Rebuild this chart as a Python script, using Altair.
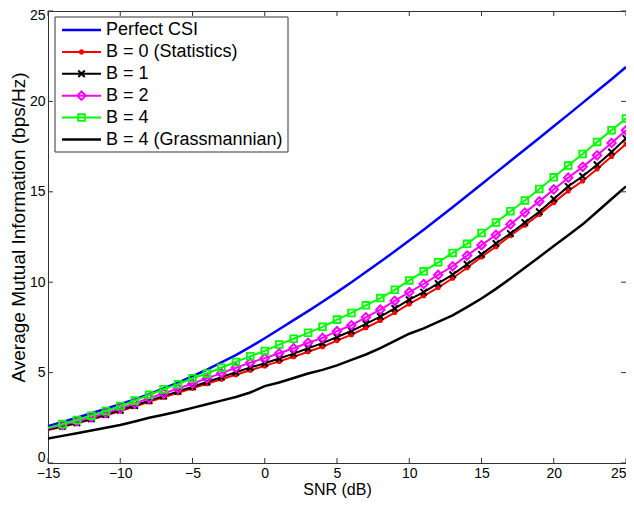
import altair as alt
import pandas as pd

# ---------------- data ----------------
snr = list(range(-15, 26))

perfect_csi = [2.03, 2.27, 2.5, 2.75, 3.0, 3.25, 3.52, 3.81, 4.12, 4.45,
               4.8, 5.17, 5.56, 5.97, 6.42, 6.9, 7.4, 7.9, 8.4, 8.92,
               9.45, 10.0, 10.56, 11.13, 11.71, 12.3, 12.9, 13.52, 14.15, 14.78,
               15.42, 16.06, 16.7, 17.34, 17.98, 18.62, 19.27, 19.92, 20.57, 21.23,
               21.9]
b0_statistics = [1.83, 2.0, 2.2, 2.41, 2.63, 2.87, 3.12, 3.38, 3.63, 3.88,
                 4.13, 4.38, 4.63, 4.88, 5.13, 5.37, 5.62, 5.88,
                 6.15, 6.43, 6.77, 7.1, 7.48, 7.88, 8.32,
                 8.8, 9.25, 9.7, 10.22, 10.8, 11.4, 11.96, 12.57, 13.15, 13.75,
                 14.4, 15.05, 15.6, 16.26, 16.95, 17.64]
b1 = [1.85, 2.03, 2.23, 2.45, 2.68, 2.92, 3.18, 3.45, 3.7, 3.96,
      4.22, 4.48, 4.75, 5.02, 5.28, 5.52, 5.78, 6.05,
      6.35, 6.63, 6.97, 7.3, 7.7, 8.1, 8.55,
      9.03, 9.45, 9.93, 10.42, 10.99, 11.54, 12.14, 12.69, 13.3, 13.9,
      14.6, 15.3, 15.86, 16.5, 17.2, 17.95]
b2 = [1.9, 2.1, 2.3, 2.52, 2.76, 3.02, 3.3, 3.58, 3.85, 4.12,
      4.4, 4.68, 4.97, 5.27, 5.55, 5.8, 6.07, 6.35,
      6.65, 6.92, 7.29, 7.62, 8.06, 8.48, 8.97,
      9.45, 9.9, 10.4, 10.88, 11.47, 12.05, 12.62, 13.2, 13.85, 14.47,
      15.13, 15.78, 16.38, 17.02, 17.7, 18.4]
b4 = [1.95, 2.15, 2.38, 2.62, 2.88, 3.15, 3.45, 3.77, 4.08, 4.36,
      4.69, 4.95, 5.27, 5.59, 5.9, 6.2, 6.55, 6.87,
      7.2, 7.53, 7.93, 8.3, 8.72, 9.12, 9.58,
      10.1, 10.6, 11.1, 11.62, 12.12, 12.72, 13.3, 13.92, 14.52, 15.16,
      15.8, 16.45, 17.09, 17.76, 18.41, 19.05]
b4_grassmannian = [1.35, 1.5, 1.65, 1.8, 1.95, 2.1, 2.3, 2.5, 2.67, 2.85,
                   3.05, 3.25, 3.45, 3.65, 3.9,
                   4.25, 4.45, 4.7, 4.95, 5.15, 5.4, 5.7, 6.0, 6.35,
                   6.75, 7.15, 7.45, 7.8, 8.17, 8.62, 9.1, 9.63, 10.2, 10.8,
                   11.4, 12.0, 12.6, 13.2, 13.9, 14.6, 15.3]

series_names = ["Perfect CSI", "B = 0 (Statistics)", "B = 1", "B = 2", "B = 4",
                "B = 4 (Grassmannian)"]
series_colors = ["#0000FF", "#FF0000", "#000000", "#FF00FF", "#00FF00", "#000000"]
x_ticks = [-15, -10, -5, 0, 5, 10, 15, 20, 25]
y_ticks = [0, 5, 10, 15, 20, 25]

# ---------------- build tables ----------------
series_values = [perfect_csi, b0_statistics, b1, b2, b4, b4_grassmannian]
df = pd.DataFrame([
    {"snr": s, "value": v, "series": name}
    for name, vals in zip(series_names, series_values)
    for s, v in zip(snr, vals)
])

FONT = "Liberation Sans"
W, H = 578, 452
TICK = 5

x_enc = alt.X("snr:Q", scale=alt.Scale(domain=[-15, 25], nice=False, zero=False),
              axis=alt.Axis(values=x_ticks, title="SNR (dB)", tickSize=0, domain=False,
                            grid=False, labelFontSize=14, labelPadding=3,
                            labelAlign={"condition": {"test": "datum.value == 25",
                                                      "value": "right"},
                                        "value": "center"},
                            titleFontSize=16, titlePadding=1, labelFont=FONT,
                            titleFont=FONT, labelColor="#000", titleColor="#000",
                            titleFontWeight="normal", labelFlush=False))
y_enc = alt.Y("value:Q", scale=alt.Scale(domain=[0, 25], nice=False, zero=False),
              axis=alt.Axis(values=y_ticks, title="Average Mutual Information (bps/Hz)",
                            tickSize=0, domain=False, grid=False, labelFontSize=14,
                            labelPadding=3,
                            labelOffset={"condition": [
                                {"test": "datum.value == 25", "value": 4},
                                {"test": "datum.value == 0", "value": -6}],
                                "value": 0},
                            titleFontSize=19, titlePadding=1, titleY=216,
                            labelFont=FONT, titleFont=FONT, labelColor="#000",
                            titleColor="#000", titleFontWeight="normal"))
color_enc = alt.Color("series:N", scale=alt.Scale(domain=series_names, range=series_colors),
                      legend=None)

base = alt.Chart(df).encode(x=x_enc, y=y_enc, color=color_enc)

line_widths = {"Perfect CSI": 2.5, "B = 0 (Statistics)": 2, "B = 1": 2, "B = 2": 2,
               "B = 4": 2, "B = 4 (Grassmannian)": 2.5}
X_PATH = "M-1,-1L1,1M-1,1L1,-1"
marker_specs = {
    "B = 0 (Statistics)": dict(shape="circle", filled=True, size=26, strokeWidth=0),
    "B = 1": dict(shape=X_PATH, filled=False, size=42, strokeWidth=2),
    "B = 2": dict(shape="diamond", filled=False, size=70, strokeWidth=2),
    "B = 4": dict(shape="square", filled=False, size=45, strokeWidth=1.8),
}

layers = []
for name in series_names:
    layers.append(base.transform_filter(alt.datum.series == name)
                  .mark_line(strokeWidth=line_widths[name]))
    if name in marker_specs:
        spec = marker_specs[name]
        layers.append(base.transform_filter((alt.datum.series == name) & (alt.datum.snr >= -14))
                      .mark_point(opacity=1, **spec))

# inward ticks on all four sides
xt = pd.DataFrame({"snr": x_ticks})
yt = pd.DataFrame({"value": y_ticks})
tick_style = dict(color="#333", strokeWidth=1)
layers += [
    alt.Chart(xt).mark_rule(**tick_style).encode(x=x_enc, y=alt.value(H), y2=alt.value(H - TICK)),
    alt.Chart(xt).mark_rule(**tick_style).encode(x=x_enc, y=alt.value(0), y2=alt.value(TICK)),
    alt.Chart(yt).mark_rule(**tick_style).encode(y=y_enc, x=alt.value(0), x2=alt.value(TICK)),
    alt.Chart(yt).mark_rule(**tick_style).encode(y=y_enc, x=alt.value(W), x2=alt.value(W - TICK)),
]

# legend box (drawn manually: line sample + marker + label)
LEG_X0, LEG_X1, LEG_Y0, LEG_Y1 = 7, 240, 6, 141
ROW0, ROW_STEP = 19, 21.9
legend_df = pd.DataFrame({"series": series_names,
                          "ly": [ROW0 + i * ROW_STEP for i in range(len(series_names))]})
layers.append(alt.Chart(pd.DataFrame({"k": [0]})).mark_rect(fill="white", stroke="#333",
                                                          strokeWidth=1)
              .encode(x=alt.value(LEG_X0), x2=alt.value(LEG_X1),
                      y=alt.value(LEG_Y0), y2=alt.value(LEG_Y1)))
leg_base = alt.Chart(legend_df).encode(y=alt.Y("ly:Q", scale=None), color=color_enc)
for name in series_names:
    layers.append(leg_base.transform_filter(alt.datum.series == name)
                  .mark_rule(strokeWidth=line_widths[name])
                  .encode(x=alt.value(14), x2=alt.value(53)))
    if name in marker_specs:
        layers.append(leg_base.transform_filter(alt.datum.series == name)
                      .mark_point(opacity=1, **marker_specs[name])
                      .encode(x=alt.value(33.5)))
layers.append(alt.Chart(legend_df).mark_text(align="left", baseline="middle", font=FONT,
                                             fontSize=18, color="#000")
              .encode(x=alt.value(58), y=alt.Y("ly:Q", scale=None), text="series:N"))

chart = (alt.layer(*layers)
         .properties(width=W, height=H,
                     padding={"left": 40, "top": 3, "right": 0, "bottom": 36},
                     autosize=alt.AutoSizeParams(type="none"),
                     background="white")
         .configure_view(stroke="#333", strokeWidth=1))

chart.save("out.html", embed_options={"renderer": "svg", "actions": False})
